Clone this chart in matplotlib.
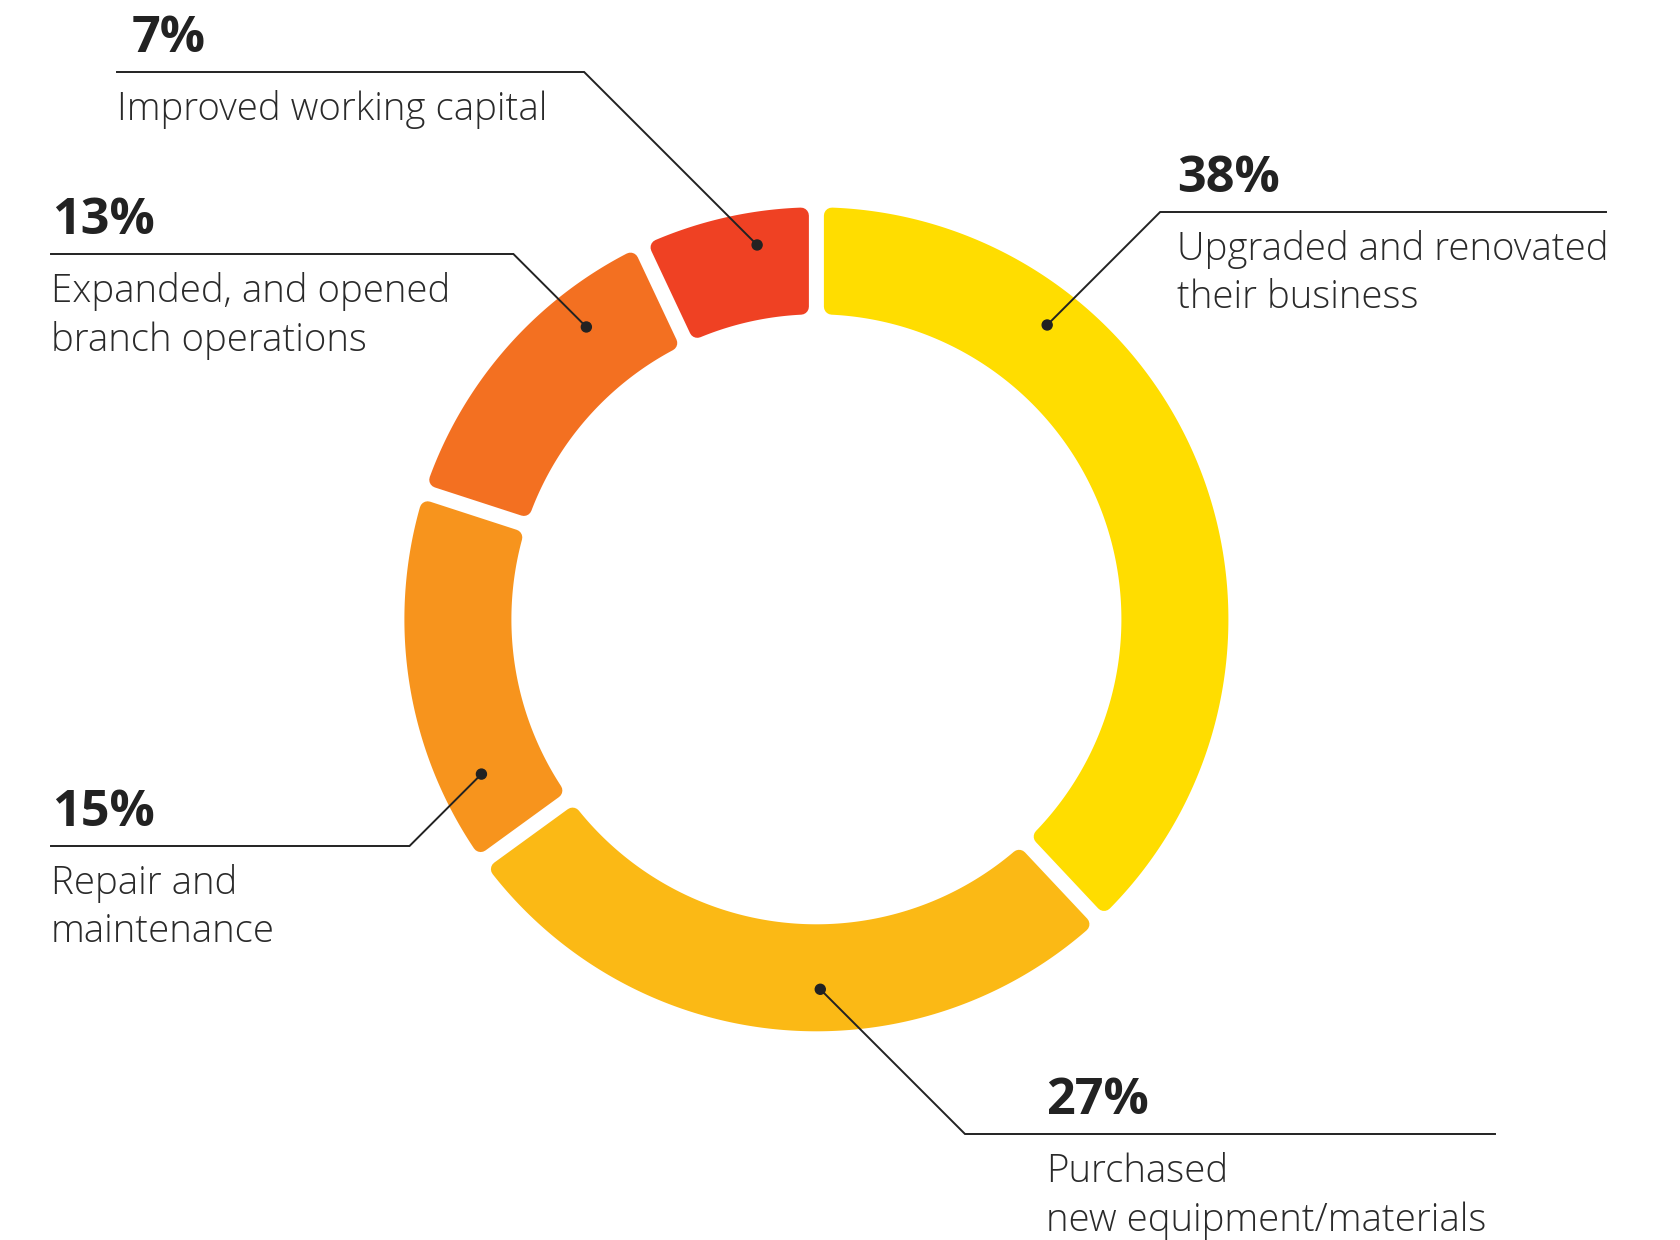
import numpy as np
import matplotlib
matplotlib.use("Agg")
import matplotlib.pyplot as plt
from matplotlib.patches import Polygon, Circle

# ---- data -----------------------------------------------------------------
categories = [
    "Upgraded and renovated\ntheir business",
    "Purchased\nnew equipment/materials",
    "Repair and\nmaintenance",
    "Expanded, and opened\nbranch operations",
    "Improved working capital",
]
shares = [38, 27, 15, 13, 7]
pct_labels = [f"{v}%" for v in shares]
colors = ["#FFDD00", "#FBB915", "#F7941D", "#F37021", "#EF4123"]

# ---- layout (pixel space, y grows downward) --------------------------------
W, H = 1680, 1240
cx, cy = 816.4, 619.3
R_OUT, R_IN = 412.0, 305.0
GAP = 15.0          # white gap between segments
CORNER = 8.0        # corner rounding radius

# where each leader starts on the ring, and where its shelf sits
dot_angle = [51.9, -89.4, 204.8, 128.2, 99.0]
dot_r = [374.0, 370.0, 369.0, 372.0, 379.0]
shelf_y = [212, 1134, 846, 254, 72]
shelf_end = [1606, 1495, 51, 51, 117]
pct_x = [1177, 1046, 52, 52, 132]
lab_x = [1177, 1046, 51, 51, 117]
INK = "#222222"

fig = plt.figure(figsize=(W / 100, H / 100), dpi=100)
ax = fig.add_axes([0, 0, 1, 1])
ax.set_xlim(0, W)
ax.set_ylim(H, 0)
ax.set_aspect("equal")
ax.axis("off")

px2pt = 72.0 / fig.dpi


def pos(theta_deg, r):
    t = np.radians(theta_deg)
    return cx + r * np.cos(t), cy - r * np.sin(t)


def rounded_sector(t_start, t_end, color):
    """Annular sector between t_end < t_start (degrees), inset so that a
    round-joined stroke of width 2*CORNER restores the full outline."""
    ro = R_OUT - CORNER
    ri = R_IN + CORNER
    off = GAP / 2 + CORNER
    do = np.degrees(np.arcsin(off / ro))
    di = np.degrees(np.arcsin(off / ri))
    a_out = np.linspace(t_start - do, t_end + do, 200)
    a_in = np.linspace(t_end + di, t_start - di, 200)
    pts = [pos(a, ro) for a in a_out] + [pos(a, ri) for a in a_in]
    ax.add_patch(Polygon(pts, closed=True, facecolor=color, edgecolor=color,
                         linewidth=2 * CORNER * px2pt, joinstyle="round",
                         zorder=1))


# segments run clockwise from 12 o'clock
total = float(sum(shares))
bounds = 90.0 - 360.0 * np.concatenate([[0], np.cumsum(shares)]) / total
for i, col in enumerate(colors):
    rounded_sector(bounds[i], bounds[i + 1], col)

# leaders, percentages and descriptions
pct_texts, lab_texts = [], []
for i in range(len(shares)):
    dx, dy = pos(dot_angle[i], dot_r[i])
    sy = shelf_y[i]
    direction = 1 if shelf_end[i] > dx else -1
    ex = dx + direction * abs(sy - dy)
    ax.plot([dx, ex, shelf_end[i]], [dy, sy, sy], color=INK, lw=1.4,
            solid_joinstyle="miter", zorder=3)
    ax.add_patch(Circle((dx, dy), 5.0, color=INK, zorder=4))

    pct_texts.append(ax.text(pct_x[i], sy - 20, pct_labels[i], fontsize=30,
                             fontweight="bold", family="Open Sans",
                             color=INK, ha="left", va="baseline"))
    for j, line in enumerate(categories[i].split("\n")):
        lab_texts.append(ax.text(lab_x[i], sy + 48 + 48.5 * j, line,
                                 fontsize=24, fontweight="light",
                                 family="Open Sans", color="#2a2a2a",
                                 ha="left", va="baseline"))

# scale fonts so the widest description and the "38%" figure span their
# intended widths
fig.canvas.draw()
rend = fig.canvas.get_renderer()
ref_lab = [t for t in lab_texts if t.get_text() == "Improved working capital"][0]
k_lab = 432.0 / ref_lab.get_window_extent(rend).width
for t in lab_texts:
    t.set_fontsize(t.get_fontsize() * k_lab)
k_pct = 103.0 / pct_texts[0].get_window_extent(rend).width
for t in pct_texts:
    t.set_fontsize(t.get_fontsize() * k_pct)

fig.savefig("out.png", dpi=100, facecolor="white")
